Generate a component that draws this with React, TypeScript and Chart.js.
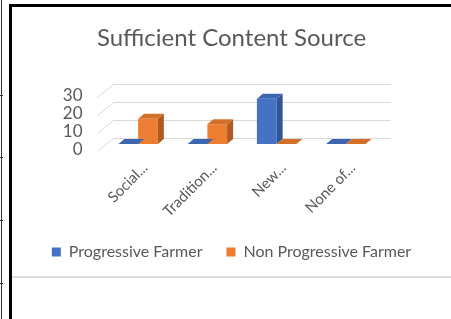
import React, { useEffect, useRef } from "react";
import { Chart, registerables } from "chart.js";

Chart.register(...registerables);

const categories = ["Social...", "Tradition...", "New...", "None of..."];
const progressiveFarmer = [0, 0, 25, 0];
const nonProgressiveFarmer = [14, 11, 0, 0];
const seriesNames = ["Progressive Farmer", "Non Progressive Farmer"];
const yTickValues = [0, 10, 20, 30];

const FONT = "Lato, 'Noto Sans', sans-serif";
const TEXT = "#595959";
const FRONT = ["#4472C4", "#ED7D31"];
const TOPC = ["#3D66B0", "#D46F2A"];
const SIDE = ["#2F5597", "#AE5A21"];
const DX = 6;
const DY = 5;

const gridPlugin = {
  id: "grid3d",
  beforeDatasetsDraw(chart: any) {
    const ctx = chart.ctx;
    const ys = chart.scales.y;
    const { left, right } = chart.chartArea;
    ctx.save();
    ctx.strokeStyle = "#d9d9d9";
    ctx.lineWidth = 1;
    yTickValues.forEach((v) => {
      const p = Math.round(ys.getPixelForValue(v)) + 0.5;
      ctx.beginPath();
      ctx.moveTo(left - 6, p + 7);
      ctx.lineTo(left + 10, p - 6);
      ctx.lineTo(right + 10, p - 6);
      ctx.stroke();
    });
    ctx.restore();
  },
};

const barPlugin = {
  id: "bar3d",
  afterDatasetsDraw(chart: any) {
    const ctx = chart.ctx;
    ctx.save();
    chart.data.datasets.forEach((_ds: any, i: number) => {
      const meta = chart.getDatasetMeta(i);
      meta.data.forEach((bar: any) => {
        const { x, y, base, width } = bar.getProps(["x", "y", "base", "width"], true);
        const l = x - width / 2;
        const r = x + width / 2;
        const top = Math.min(y, base);
        if (Math.abs(base - y) > 0.5) {
          ctx.fillStyle = SIDE[i];
          ctx.beginPath();
          ctx.moveTo(r, top);
          ctx.lineTo(r + DX, top - DY);
          ctx.lineTo(r + DX, base - DY);
          ctx.lineTo(r, base);
          ctx.closePath();
          ctx.fill();
        }
        ctx.fillStyle = TOPC[i];
        ctx.beginPath();
        ctx.moveTo(l, top);
        ctx.lineTo(r, top);
        ctx.lineTo(r + DX, top - DY);
        ctx.lineTo(l + DX, top - DY);
        ctx.closePath();
        ctx.fill();
      });
    });
    ctx.restore();
  },
};

export default function App() {
  const ref = useRef<HTMLCanvasElement | null>(null);
  useEffect(() => {
    if (!ref.current) return;
    const chart = new Chart(ref.current, {
      type: "bar",
      data: {
        labels: categories,
        datasets: [
          { label: seriesNames[0], data: progressiveFarmer, backgroundColor: FRONT[0] },
          { label: seriesNames[1], data: nonProgressiveFarmer, backgroundColor: FRONT[1] },
        ],
      },
      options: {
        animation: false,
        responsive: false,
        maintainAspectRatio: false,
        layout: { padding: { left: 0, right: 0, top: 0, bottom: 6 } },
        datasets: { bar: { categoryPercentage: 0.57, barPercentage: 1.0 } },
        plugins: {
          title: {
            display: true,
            text: "Sufficient Content Source",
            color: TEXT,
            font: { family: FONT, size: 24, weight: "normal" },
            padding: { top: 17, bottom: 37 },
          },
          legend: {
            position: "bottom",
            labels: {
              color: TEXT,
              font: { family: FONT, size: 16 },
              boxWidth: 9,
              boxHeight: 9,
              padding: 24,
            },
          },
          tooltip: { enabled: false },
        },
        scales: {
          x: {
            grid: { display: false, drawTicks: false },
            border: { display: false },
            ticks: {
              color: TEXT,
              font: { family: FONT, size: 15 },
              minRotation: 45,
              maxRotation: 45,
              padding: 15,
              labelOffset: 7,
            },
            afterFit: (s: any) => { s.height = 76; },
          },
          y: {
            min: 0,
            max: 30,
            grid: { display: false, drawTicks: false },
            border: { display: false },
            ticks: {
              stepSize: 10,
              autoSkip: false,
              color: TEXT,
              font: { family: FONT, size: 17 },
              padding: 21,
              labelOffset: 6,
            },
            afterFit: (s: any) => { s.width = 91.5; },
          },
          yRight: {
            position: "right",
            display: true,
            grid: { display: false, drawTicks: false },
            border: { display: false },
            ticks: { display: false },
            afterFit: (s: any) => { s.width = 70.5; },
          },
        },
      },
      plugins: [gridPlugin, barPlugin],
    });
    return () => chart.destroy();
  }, []);

  return (
    <div style={{ position: "absolute", left: 0, top: 0, width: 451, height: 319, background: "#fff", overflow: "hidden" }}>
      <div style={{ position: "absolute", left: 1, top: 0, width: 1, height: 319, background: "#333" }} />
      {[95, 157, 220, 283].map((t) => (
        <div key={t} style={{ position: "absolute", left: 0, top: t, width: 3, height: 1, background: "#333" }} />
      ))}
      <div style={{ position: "absolute", left: 9, top: 4, width: 3, height: 315, background: "#000" }} />
      <div style={{ position: "absolute", left: 9, top: 4, width: 442, height: 3, background: "#000" }} />
      <div style={{ position: "absolute", left: 12, top: 276, width: 439, height: 2, background: "#dcdcdc" }} />
      <canvas ref={ref} width={439} height={269} style={{ position: "absolute", left: 12, top: 7, width: 439, height: 269 }} />
    </div>
  );
}
